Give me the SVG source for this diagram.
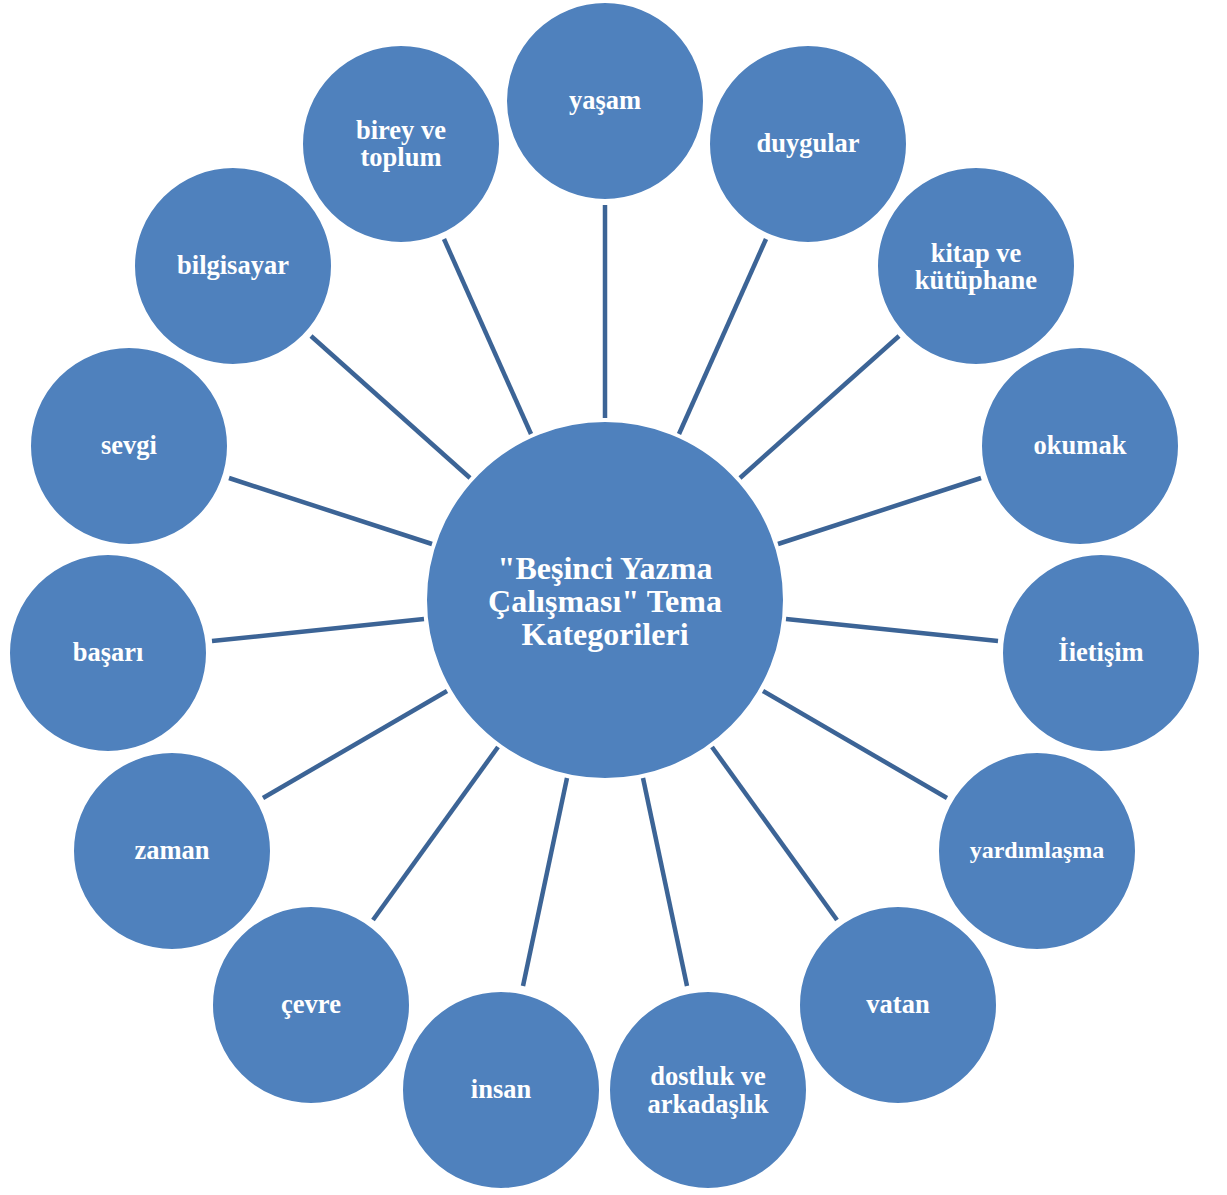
<svg xmlns="http://www.w3.org/2000/svg" width="1227" height="1195" viewBox="0 0 1227 1195">
<style>
.n{fill:#4F81BD;stroke:#fff;stroke-width:2}
.c line{stroke:#3C6496;stroke-width:4.5}
.lbl{font-family:'Liberation Serif','Times New Roman','DejaVu Serif',serif;font-weight:bold;fill:#fff;text-anchor:middle}
.t{font-size:26.5px}
.m{font-size:32px}
</style>
<rect width="1227" height="1195" fill="#fff"/>
<g class="c" id="connectors">
<line x1="605" y1="418" x2="605" y2="205"/>
<line x1="679" y1="434" x2="766" y2="239"/>
<line x1="740" y1="478" x2="899" y2="336"/>
<line x1="778" y1="544" x2="981" y2="478"/>
<line x1="786" y1="619" x2="998" y2="641"/>
<line x1="763" y1="691" x2="947" y2="798"/>
<line x1="712" y1="747" x2="837" y2="920"/>
<line x1="643" y1="778" x2="687" y2="986"/>
<line x1="567" y1="778" x2="523" y2="986"/>
<line x1="498" y1="747" x2="373" y2="920"/>
<line x1="447" y1="691" x2="263" y2="798"/>
<line x1="424" y1="619" x2="212" y2="641"/>
<line x1="432" y1="544" x2="229" y2="478"/>
<line x1="470" y1="478" x2="311" y2="336"/>
<line x1="531" y1="434" x2="444" y2="239"/>
</g>
<g id="center" class="lbl"><circle class="n" cx="605" cy="600" r="179"/>
<text class="m" x="605" y="579">"Beşinci Yazma</text>
<text class="m" x="605" y="612">Çalışması" Tema</text>
<text class="m" x="605" y="645">Kategorileri</text></g>
<g class="lbl" id="n1"><circle class="n" cx="605" cy="101" r="99"/><text class="t" x="605" y="109">yaşam</text></g>
<g class="lbl" id="n2"><circle class="n" cx="808" cy="144" r="99"/><text class="t" x="808" y="152">duygular</text></g>
<g class="lbl" id="n3"><circle class="n" cx="976" cy="266" r="99"/><text class="t" x="976" y="262">kitap ve</text><text class="t" x="976" y="289">kütüphane</text></g>
<g class="lbl" id="n4"><circle class="n" cx="1080" cy="446" r="99"/><text class="t" x="1080" y="454">okumak</text></g>
<g class="lbl" id="n5"><circle class="n" cx="1101" cy="653" r="99"/><text class="t" x="1101" y="661">İietişim</text></g>
<g class="lbl" id="n6"><circle class="n" cx="1037" cy="851" r="99"/><text class="t" x="1037" y="858" style="font-size:24px">yardımlaşma</text></g>
<g class="lbl" id="n7"><circle class="n" cx="898" cy="1005" r="99"/><text class="t" x="898" y="1013">vatan</text></g>
<g class="lbl" id="n8"><circle class="n" cx="708" cy="1090" r="99"/><text class="t" x="708" y="1085">dostluk ve</text><text class="t" x="708" y="1113">arkadaşlık</text></g>
<g class="lbl" id="n9"><circle class="n" cx="501" cy="1090" r="99"/><text class="t" x="501" y="1098">insan</text></g>
<g class="lbl" id="n10"><circle class="n" cx="311" cy="1005" r="99"/><text class="t" x="311" y="1013">çevre</text></g>
<g class="lbl" id="n11"><circle class="n" cx="172" cy="851" r="99"/><text class="t" x="172" y="859">zaman</text></g>
<g class="lbl" id="n12"><circle class="n" cx="108" cy="653" r="99"/><text class="t" x="108" y="661">başarı</text></g>
<g class="lbl" id="n13"><circle class="n" cx="129" cy="446" r="99"/><text class="t" x="129" y="454">sevgi</text></g>
<g class="lbl" id="n14"><circle class="n" cx="233" cy="266" r="99"/><text class="t" x="233" y="274">bilgisayar</text></g>
<g class="lbl" id="n15"><circle class="n" cx="401" cy="144" r="99"/><text class="t" x="401" y="139">birey ve</text><text class="t" x="401" y="166">toplum</text></g>
</svg>
